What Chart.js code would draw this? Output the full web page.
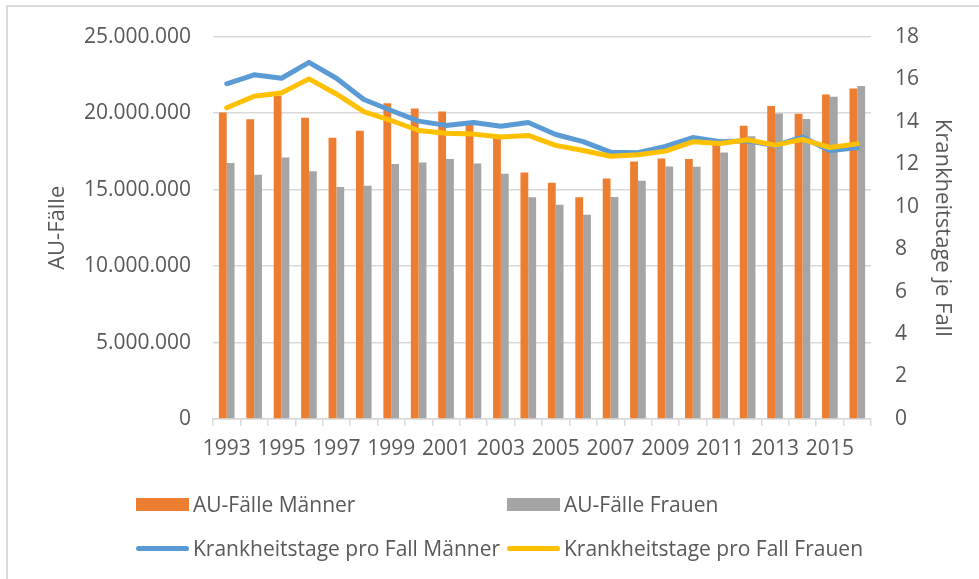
<!DOCTYPE html>
<html lang="de">
<head>
    <meta charset="UTF-8">
    <title>AU-Fälle und Krankheitstage</title>
    <script src="https://cdn.jsdelivr.net/npm/chart.js"></script>
    <style>
        body {
            margin: 0;
            padding: 0;
            background-color: #fff;
            font-family: "Open Sans", sans-serif;
        }

        .chart-box {
            position: relative;
            width: 979px;
            height: 579px;
            overflow: hidden;
        }

        .frame {
            position: absolute;
            left: 6px;
            top: 5px;
            width: 990px;
            height: 590px;
            border: 2px solid #dadada;
        }

        canvas {
            position: absolute;
            left: 0;
            top: 0;
        }

        .legend-item {
            position: absolute;
            height: 26px;
            display: flex;
            align-items: center;
            color: #595959;
            font-size: 21px;
            white-space: nowrap;
        }

        .legend-item span.mark {
            display: inline-block;
            width: 53px;
            margin-right: 4px;
        }
    </style>
</head>
<body>
    <div class="chart-box">
        <div class="frame"></div>
        <canvas id="auChart" width="979" height="579"></canvas>
        <div id="legend"></div>
    </div>

    <script>
        const years = ['1993', '1994', '1995', '1996', '1997', '1998', '1999', '2000',
            '2001', '2002', '2003', '2004', '2005', '2006', '2007', '2008',
            '2009', '2010', '2011', '2012', '2013', '2014', '2015', '2016'];

        // AU-Fälle (Anzahl)
        const auMaenner = [20030000, 19600000, 21120000, 19690000, 18380000, 18840000,
            20640000, 20300000, 20100000, 19300000, 18400000, 16120000,
            15450000, 14490000, 15730000, 16840000, 17030000, 16990000,
            18000000, 19170000, 20470000, 19950000, 21210000, 21600000];
        const auFrauen = [16730000, 15970000, 17100000, 16190000, 15170000, 15250000,
            16670000, 16770000, 16990000, 16710000, 16040000, 14490000,
            14000000, 13360000, 14520000, 15580000, 16510000, 16490000,
            17430000, 18490000, 19970000, 19620000, 21060000, 21770000];

        // Krankheitstage je Fall
        const tageMaenner = [15.78, 16.20, 16.04, 16.79, 16.04, 15.04, 14.52, 14.02,
            13.82, 13.96, 13.78, 13.96, 13.39, 13.06, 12.56, 12.53,
            12.83, 13.25, 13.05, 13.10, 12.87, 13.27, 12.63, 12.78];
        const tageFrauen = [14.65, 15.19, 15.35, 16.01, 15.30, 14.47, 14.05, 13.58,
            13.45, 13.41, 13.27, 13.35, 12.88, 12.64, 12.37, 12.44,
            12.61, 13.05, 12.97, 13.14, 12.89, 13.16, 12.78, 12.95];

        const leftTicks = [0, 5000000, 10000000, 15000000, 20000000, 25000000];
        const rightTicks = [0, 2, 4, 6, 8, 10, 12, 14, 16, 18];

        const textColor = '#595959';
        const gridColor = '#d9d9d9';
        const tickFont = { family: 'Open Sans', size: 21 };

        // 25000000 -> 25.000.000
        function formatDe(v) {
            return String(Math.round(v)).replace(/\B(?=(\d{3})+(?!\d))/g, '.');
        }

        const ctx = document.getElementById('auChart').getContext('2d');
        const chart = new Chart(ctx, {
            type: 'bar',
            data: {
                labels: years,
                datasets: [{
                    label: 'AU-Fälle Männer',
                    data: auMaenner,
                    backgroundColor: '#ed7d31',
                    yAxisID: 'y',
                    order: 3
                }, {
                    label: 'AU-Fälle Frauen',
                    data: auFrauen,
                    backgroundColor: '#a5a5a5',
                    yAxisID: 'y',
                    order: 3
                }, {
                    type: 'line',
                    label: 'Krankheitstage pro Fall Männer',
                    data: tageMaenner,
                    borderColor: '#5b9bd5',
                    backgroundColor: '#5b9bd5',
                    borderWidth: 5,
                    borderCapStyle: 'round',
                    borderJoinStyle: 'round',
                    pointRadius: 0,
                    tension: 0,
                    yAxisID: 'y2',
                    order: 2
                }, {
                    type: 'line',
                    label: 'Krankheitstage pro Fall Frauen',
                    data: tageFrauen,
                    borderColor: '#ffc000',
                    backgroundColor: '#ffc000',
                    borderWidth: 5,
                    borderCapStyle: 'round',
                    borderJoinStyle: 'round',
                    pointRadius: 0,
                    tension: 0,
                    yAxisID: 'y2',
                    order: 1
                }]
            },
            options: {
                responsive: false,
                animation: false,
                devicePixelRatio: 1,
                layout: {
                    padding: { top: 36, left: 0, right: 0, bottom: 0 }
                },
                datasets: {
                    bar: {
                        categoryPercentage: 0.57,
                        barPercentage: 1.0
                    }
                },
                plugins: {
                    legend: { display: false },
                    tooltip: { enabled: false }
                },
                scales: {
                    x: {
                        offset: true,
                        grid: {
                            offset: true,
                            drawOnChartArea: false,
                            drawTicks: true,
                            tickLength: 7,
                            color: gridColor,
                            lineWidth: 1.5
                        },
                        border: { display: true, color: gridColor, width: 1.5 },
                        ticks: {
                            autoSkip: false,
                            maxRotation: 0,
                            padding: 10,
                            color: textColor,
                            font: tickFont,
                            callback: (v, i) => (i % 2 === 0 ? years[i] : '')
                        },
                        afterFit: scale => { scale.height = 160; }
                    },
                    y: {
                        position: 'left',
                        min: 0,
                        max: 25000000,
                        afterBuildTicks: scale => {
                            scale.ticks = leftTicks.map(v => ({ value: v }));
                        },
                        grid: { color: gridColor, lineWidth: 1.5, drawTicks: false },
                        border: { display: false },
                        ticks: {
                            padding: 22,
                            color: textColor,
                            font: tickFont,
                            callback: v => formatDe(v)
                        },
                        title: {
                            display: true,
                            text: 'AU-Fälle',
                            color: textColor,
                            font: { family: 'Open Sans', size: 22 },
                            padding: { top: 45, bottom: 0 }
                        },
                        afterFit: scale => { scale.width = 213; }
                    },
                    y2: {
                        position: 'right',
                        min: 0,
                        max: 18,
                        afterBuildTicks: scale => {
                            scale.ticks = rightTicks.map(v => ({ value: v }));
                        },
                        grid: { drawOnChartArea: false, drawTicks: false },
                        border: { display: false },
                        ticks: {
                            padding: 24,
                            color: textColor,
                            font: tickFont
                        },
                        title: {
                            display: true,
                            text: 'Krankheitstage je Fall',
                            color: textColor,
                            font: { family: 'Open Sans', size: 22 },
                            padding: { top: 24, bottom: 0 }
                        },
                        afterFit: scale => { scale.width = 108; }
                    }
                }
            }
        });

        // Legend in two columns like the original (built from the datasets)
        const legendSlots = [
            { left: 136, top: 491 },
            { left: 507, top: 491 },
            { left: 136, top: 535 },
            { left: 507, top: 535 }
        ];
        const legendEl = document.getElementById('legend');
        chart.data.datasets.forEach((ds, i) => {
            const slot = legendSlots[i];
            const item = document.createElement('div');
            item.className = 'legend-item';
            item.style.left = slot.left + 'px';
            item.style.top = slot.top + 'px';
            const mark = document.createElement('span');
            mark.className = 'mark';
            if (ds.type === 'line') {
                mark.style.height = '5px';
                mark.style.borderRadius = '3px';
                mark.style.background = ds.borderColor;
            } else {
                mark.style.height = '13px';
                mark.style.background = ds.backgroundColor;
            }
            const label = document.createElement('span');
            label.textContent = ds.label;
            item.appendChild(mark);
            item.appendChild(label);
            legendEl.appendChild(item);
        });
    </script>
</body>
</html>
